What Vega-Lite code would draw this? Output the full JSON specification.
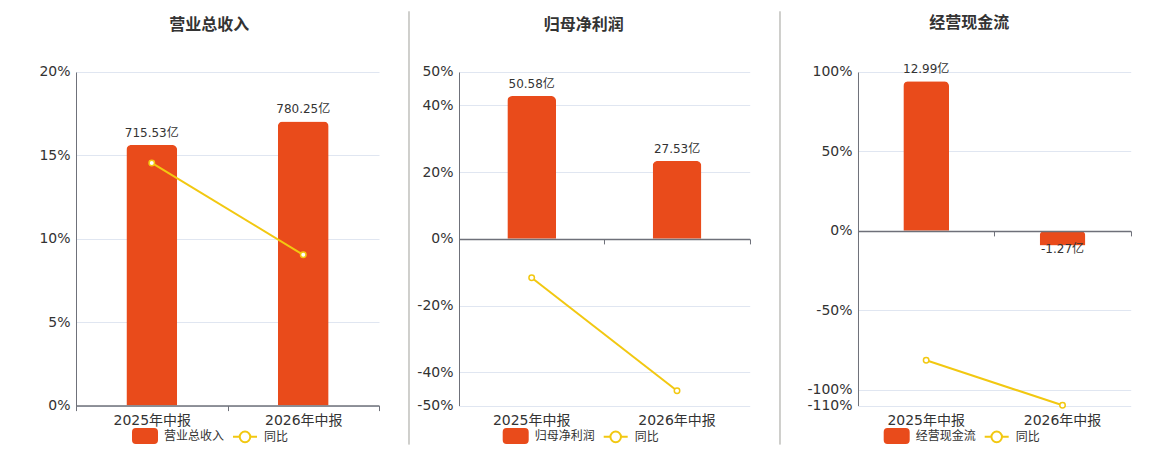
{
  "$schema": "https://vega.github.io/schema/vega-lite/v6.json",
  "padding": {"left": 38, "top": 10, "right": 5, "bottom": 5},
  "spacing": 30,
  "bounds": "flush",
  "config": {
    "view": {"stroke": null},
    "font": "DejaVu Sans, Noto Sans CJK SC",
    "axis": {
      "labelFont": "DejaVu Sans, Noto Sans CJK SC",
      "labelFontSize": 14,
      "labelColor": "#333333",
      "domainColor": "#6E7079",
      "tickColor": "#6E7079",
      "gridColor": "#E0E6F1",
      "title": null
    },
    "title": {
      "font": "Noto Sans CJK SC",
      "fontSize": 16,
      "fontWeight": "bold",
      "color": "#333333",
      "frame": "bounds",
      "anchor": "middle",
      "baseline": "bottom",
      "offset": 32
    },
    "legend": {
      "orient": "none",
      "direction": "horizontal",
      "title": null,
      "padding": 0,
      "symbolSize": 576,
      "symbolStrokeWidth": 2,
      "labelFont": "Noto Sans CJK SC",
      "labelFontSize": 12,
      "labelColor": "#333333",
      "labelOffset": 6,
      "columnPadding": 4
    }
  },
  "resolve": {"scale": {"color": "independent"}, "legend": {"color": "independent"}},
  "hconcat": [
    {
      "width": 303,
      "height": 333.6,
      "title": {"text": "营业总收入"},
      "data": {"values": [
        {"period": "2025年中报", "value": 715.53, "yoy": 14.55},
        {"period": "2026年中报", "value": 780.25, "yoy": 9.04}
      ]},
      "layer": [
        {
          "encoding": {
            "x": {"field": "period", "type": "nominal", "sort": null, "scale": {"paddingInner": 0, "paddingOuter": 0},
              "axis": {"orient": "bottom", "labelAngle": 0, "domain": true, "domainWidth": 1.5, "ticks": true, "tickBand": "extent", "tickSize": 5, "labelPadding": 3, "zindex": 1}},
            "y": {"field": "value", "type": "quantitative", "scale": {"domain": [0, 916]}, "axis": null}
          },
          "layer": [
            {
              "mark": {"type": "bar", "width": {"band": 0.335}, "cornerRadiusEnd": 5},
              "encoding": {
                "color": {"datum": "营业总收入", "scale": {"domain": ["营业总收入", "同比"], "range": ["#E94B1B", "#F2C811"]},
                  "legend": {"legendX": 56, "legendY": 351,
                    "encode": {"symbols": {"update": {
                      "shape": {"signal": "datum.value === '同比' ? 'M-1,0H-0.44M0.44,0H1M-0.44,0A0.44,0.44 0 1,1 0.44,0A0.44,0.44 0 1,1 -0.44,0Z' : 'M-0.76,-0.58H0.76A0.24,0.24 0 0 1 1,-0.34V0.34A0.24,0.24 0 0 1 0.76,0.58H-0.76A0.24,0.24 0 0 1 -1,0.34V-0.34A0.24,0.24 0 0 1 -0.76,-0.58Z'"},
                      "fillOpacity": {"signal": "datum.value === '同比' ? 0 : 1"},
                      "stroke": {"signal": "datum.value === '同比' ? '#F2C811' : 'transparent'"},
                      "strokeWidth": {"value": 2},
                      "opacity": {"value": 1}
                    }}}}}
              }
            },
            {
              "transform": [{"calculate": "datum.value + '亿'", "as": "label"}],
              "mark": {"type": "text", "baseline": "bottom", "dy": -5, "fontSize": 12, "color": "#333333", "font": "DejaVu Sans, Noto Sans CJK SC"},
              "encoding": {"text": {"field": "label"}}
            }
          ]
        },
        {
          "mark": {"type": "line", "color": "#F2C811", "strokeWidth": 2, "point": {"filled": false, "fill": "#ffffff", "size": 30, "strokeWidth": 1.5}},
          "encoding": {
            "x": {"field": "period", "type": "nominal", "sort": null, "scale": {"paddingInner": 0, "paddingOuter": 0}},
            "y": {"field": "yoy", "type": "quantitative", "scale": {"domain": [0, 20]},
              "axis": {"orient": "left", "values": [0, 5, 10, 15, 20], "labelExpr": "datum.value + '%'", "grid": true, "ticks": false, "domain": true, "labelPadding": 6}},
            "color": {"datum": "同比"}
          }
        }
      ],
      "resolve": {"scale": {"y": "independent"}}
    },
    {
      "width": 19.3,
      "height": 333.6,
      "data": {"values": [{}]},
      "mark": {"type": "rule", "color": "#A0A09A", "strokeWidth": 1},
      "encoding": {"x": {"value": 0}, "y": {"value": -60.7}, "y2": {"value": 372.6}}
    },
    {
      "width": 290.7,
      "height": 333.6,
      "title": {"text": "归母净利润"},
      "data": {"values": [
        {"period": "2025年中报", "value": 50.58, "yoy": -11.7},
        {"period": "2026年中报", "value": 27.53, "yoy": -45.57}
      ]},
      "layer": [
        {
          "encoding": {
            "x": {"field": "period", "type": "nominal", "sort": null, "scale": {"paddingInner": 0, "paddingOuter": 0},
              "axis": {"orient": "bottom", "labelAngle": 0, "domain": false, "ticks": false, "labelPadding": 8}},
            "y": {"field": "value", "type": "quantitative", "scale": {"domain": [-59.1, 59.1]}, "axis": null}
          },
          "layer": [
            {
              "mark": {"type": "bar", "width": {"band": 0.335}, "cornerRadiusEnd": 5},
              "encoding": {
                "color": {"datum": "归母净利润", "scale": {"domain": ["归母净利润", "同比"], "range": ["#E94B1B", "#F2C811"]},
                  "legend": {"legendX": 43.7, "legendY": 351,
                    "encode": {"symbols": {"update": {
                      "shape": {"signal": "datum.value === '同比' ? 'M-1,0H-0.44M0.44,0H1M-0.44,0A0.44,0.44 0 1,1 0.44,0A0.44,0.44 0 1,1 -0.44,0Z' : 'M-0.76,-0.58H0.76A0.24,0.24 0 0 1 1,-0.34V0.34A0.24,0.24 0 0 1 0.76,0.58H-0.76A0.24,0.24 0 0 1 -1,0.34V-0.34A0.24,0.24 0 0 1 -0.76,-0.58Z'"},
                      "fillOpacity": {"signal": "datum.value === '同比' ? 0 : 1"},
                      "stroke": {"signal": "datum.value === '同比' ? '#F2C811' : 'transparent'"},
                      "strokeWidth": {"value": 2},
                      "opacity": {"value": 1}
                    }}}}}
              }
            },
            {
              "transform": [{"calculate": "datum.value + '亿'", "as": "label"}],
              "mark": {"type": "text", "baseline": "bottom", "dy": -5, "fontSize": 12, "color": "#333333", "font": "DejaVu Sans, Noto Sans CJK SC"},
              "encoding": {"text": {"field": "label"}}
            }
          ]
        },
        {
          "mark": {"type": "line", "color": "#F2C811", "strokeWidth": 2, "point": {"filled": false, "fill": "#ffffff", "size": 30, "strokeWidth": 1.5}},
          "encoding": {
            "x": {"field": "period", "type": "nominal", "sort": null, "scale": {"paddingInner": 0, "paddingOuter": 0},
              "axis": {"orient": "bottom", "offset": -166.7, "labels": false, "domain": true, "domainWidth": 1.5, "ticks": true, "tickBand": "extent", "tickSize": 5, "grid": false, "zindex": 1}},
            "y": {"field": "yoy", "type": "quantitative", "scale": {"domain": [-50, 50]},
              "axis": {"orient": "left", "values": [-50, -40, -20, 0, 20, 40, 50], "labelExpr": "datum.value + '%'", "grid": true, "ticks": false, "domain": true, "labelPadding": 6}},
            "color": {"datum": "同比"}
          }
        }
      ],
      "resolve": {"scale": {"y": "independent"}, "axis": {"x": "independent"}}
    },
    {
      "width": 47.3,
      "height": 333.6,
      "data": {"values": [{}]},
      "mark": {"type": "rule", "color": "#A0A09A", "strokeWidth": 1},
      "encoding": {"x": {"value": 0}, "y": {"value": -60.7}, "y2": {"value": 372.6}}
    },
    {
      "width": 272.7,
      "height": 333.6,
      "title": {"text": "经营现金流"},
      "data": {"values": [
        {"period": "2025年中报", "value": 12.99, "yoy": -81.5},
        {"period": "2026年中报", "value": -1.27, "yoy": -109.78}
      ]},
      "layer": [
        {
          "encoding": {
            "x": {"field": "period", "type": "nominal", "sort": null, "scale": {"paddingInner": 0, "paddingOuter": 0},
              "axis": {"orient": "bottom", "labelAngle": 0, "domain": false, "ticks": false, "labelPadding": 8}},
            "y": {"field": "value", "type": "quantitative", "scale": {"domain": [-15.17, 13.79]}, "axis": null}
          },
          "layer": [
            {
              "mark": {"type": "bar", "width": {"band": 0.335}, "cornerRadiusEnd": 5},
              "encoding": {
                "color": {"datum": "经营现金流", "scale": {"domain": ["经营现金流", "同比"], "range": ["#E94B1B", "#F2C811"]},
                  "legend": {"legendX": 25.7, "legendY": 351,
                    "encode": {"symbols": {"update": {
                      "shape": {"signal": "datum.value === '同比' ? 'M-1,0H-0.44M0.44,0H1M-0.44,0A0.44,0.44 0 1,1 0.44,0A0.44,0.44 0 1,1 -0.44,0Z' : 'M-0.76,-0.58H0.76A0.24,0.24 0 0 1 1,-0.34V0.34A0.24,0.24 0 0 1 0.76,0.58H-0.76A0.24,0.24 0 0 1 -1,0.34V-0.34A0.24,0.24 0 0 1 -0.76,-0.58Z'"},
                      "fillOpacity": {"signal": "datum.value === '同比' ? 0 : 1"},
                      "stroke": {"signal": "datum.value === '同比' ? '#F2C811' : 'transparent'"},
                      "strokeWidth": {"value": 2},
                      "opacity": {"value": 1}
                    }}}}}
              }
            },
            {
              "transform": [{"filter": "datum.value >= 0"}, {"calculate": "datum.value + '亿'", "as": "label"}],
              "mark": {"type": "text", "baseline": "bottom", "dy": -5, "fontSize": 12, "color": "#333333", "font": "DejaVu Sans, Noto Sans CJK SC"},
              "encoding": {"text": {"field": "label"}}
            },
            {
              "transform": [{"filter": "datum.value < 0"}, {"calculate": "datum.value + '亿'", "as": "label"}],
              "mark": {"type": "text", "baseline": "top", "dy": -1, "fontSize": 12, "color": "#333333", "font": "DejaVu Sans, Noto Sans CJK SC"},
              "encoding": {"text": {"field": "label"}}
            }
          ]
        },
        {
          "mark": {"type": "line", "color": "#F2C811", "strokeWidth": 2, "point": {"filled": false, "fill": "#ffffff", "size": 30, "strokeWidth": 1.5}},
          "encoding": {
            "x": {"field": "period", "type": "nominal", "sort": null, "scale": {"paddingInner": 0, "paddingOuter": 0},
              "axis": {"orient": "bottom", "offset": -174.7, "labels": false, "domain": true, "domainWidth": 1.5, "ticks": true, "tickBand": "extent", "tickSize": 5, "grid": false, "zindex": 1}},
            "y": {"field": "yoy", "type": "quantitative", "scale": {"domain": [-110, 100]},
              "axis": {"orient": "left", "values": [-110, -100, -50, 0, 50, 100], "labelExpr": "datum.value + '%'", "grid": true, "ticks": false, "domain": true, "labelPadding": 6}},
            "color": {"datum": "同比"}
          }
        }
      ],
      "resolve": {"scale": {"y": "independent"}, "axis": {"x": "independent"}}
    }
  ]
}
